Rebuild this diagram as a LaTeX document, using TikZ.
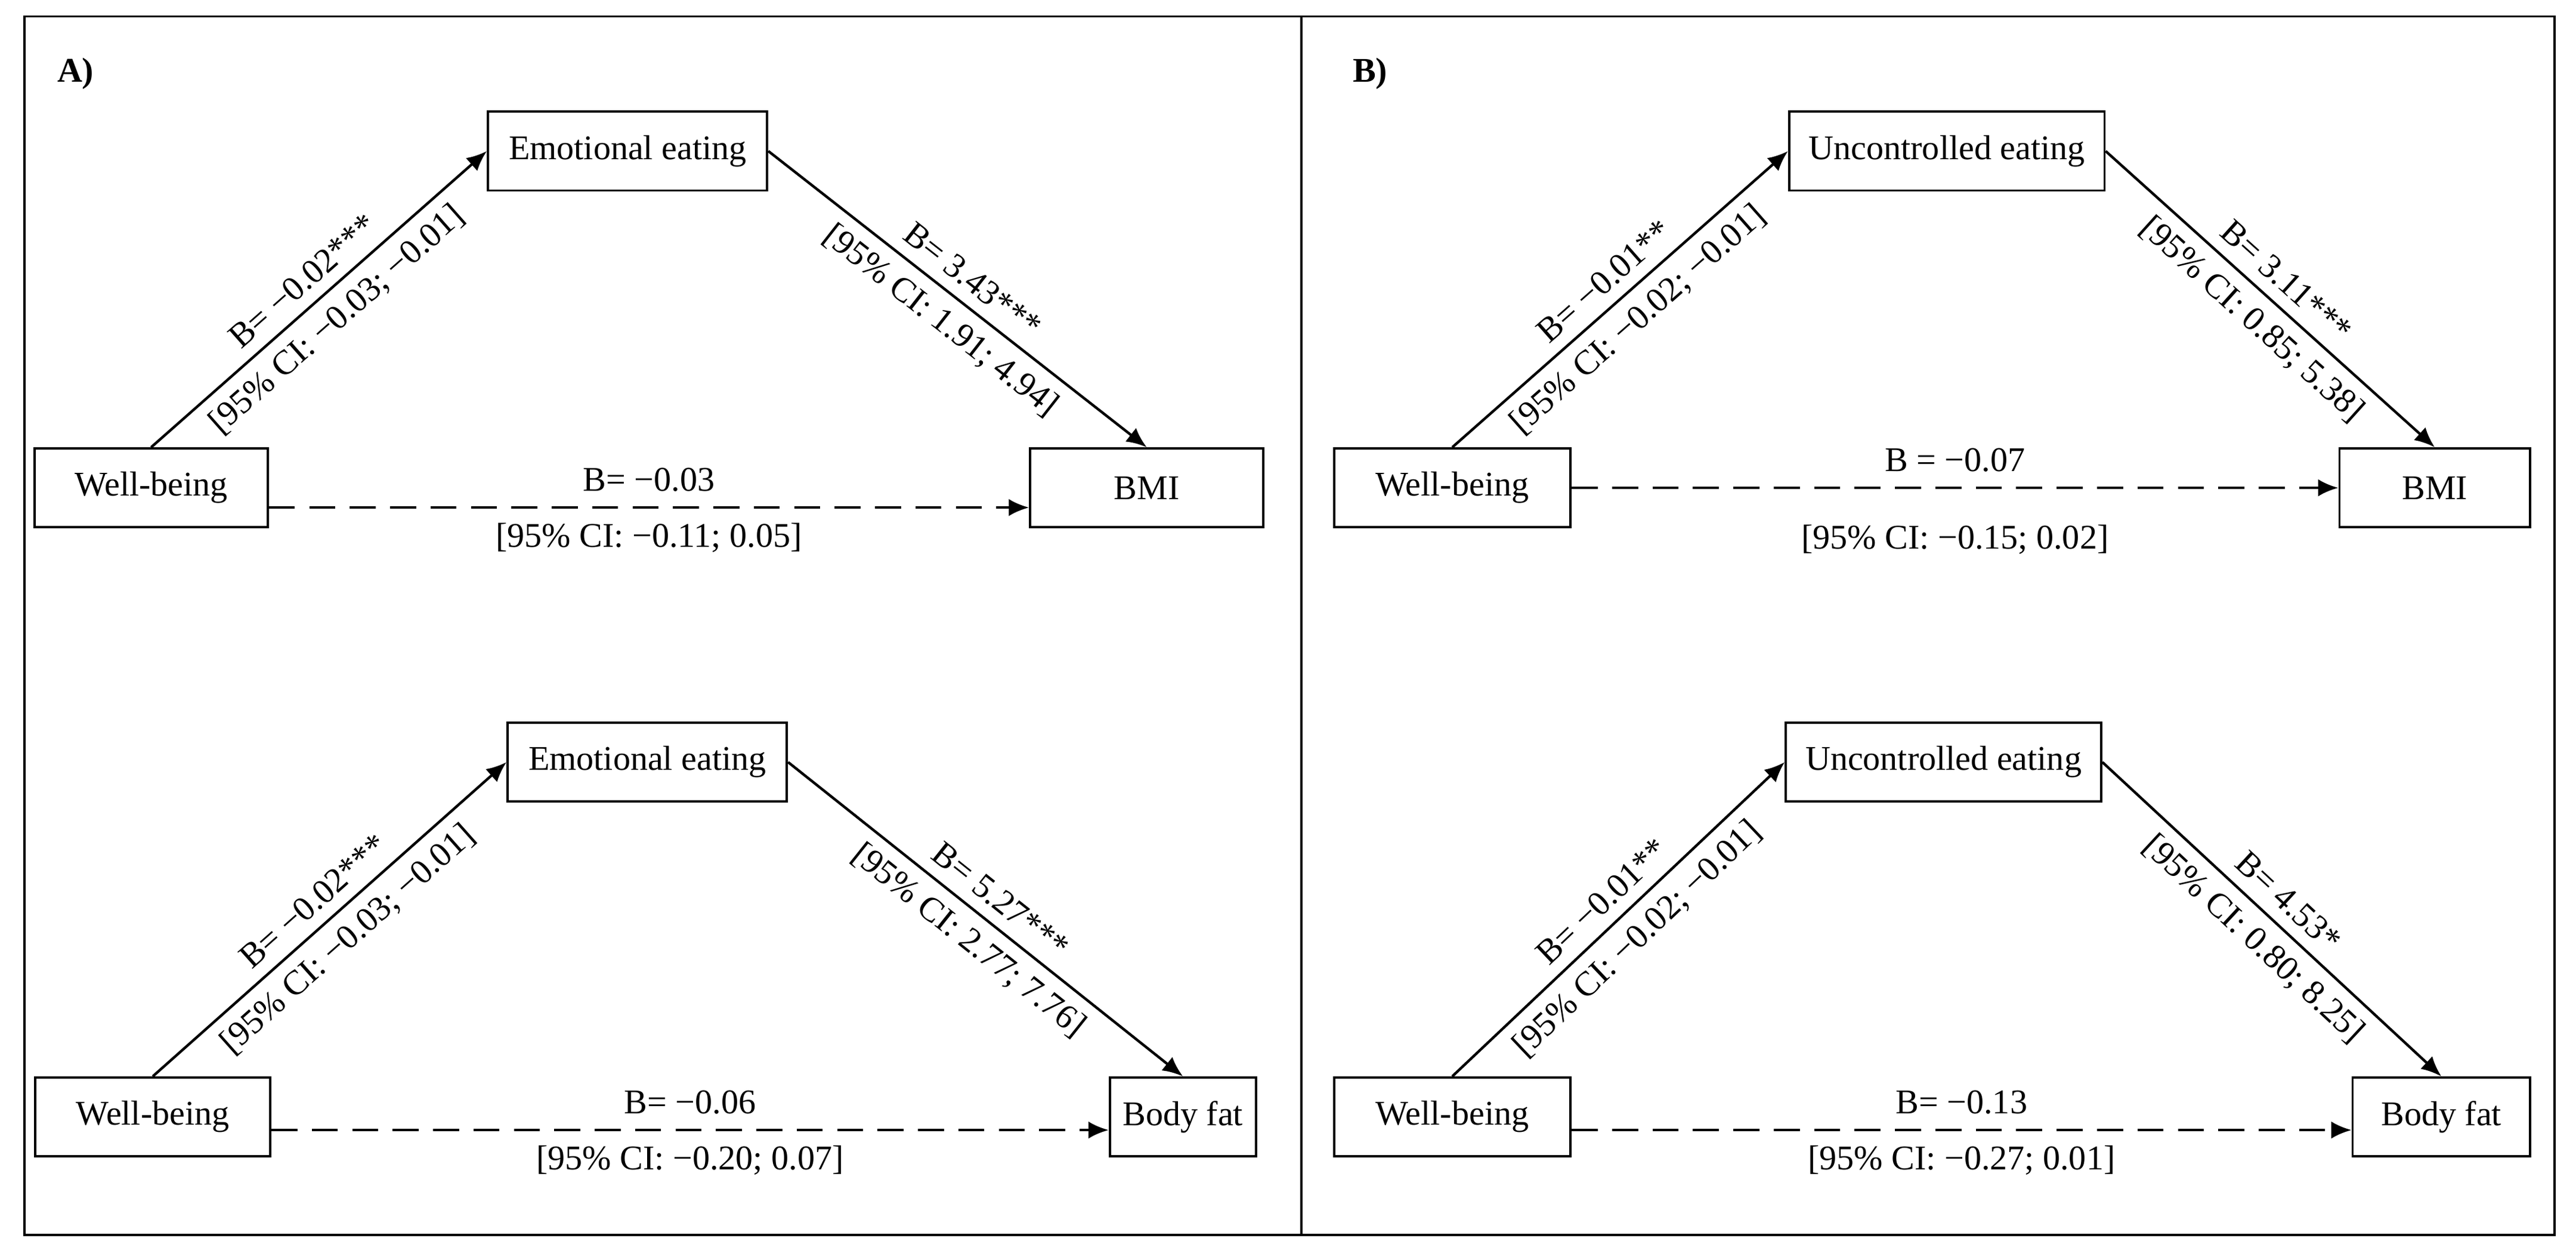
\documentclass[tikz,border=0pt]{standalone}
\usepackage{fontspec}
\setmainfont{Liberation Serif}
\usetikzlibrary{arrows.meta}
\begin{document}
\begin{tikzpicture}[x=0.02cm,y=-0.02cm,font=\fontsize{12}{14}\selectfont,
 box/.style={draw,line width=0.8pt,rectangle,inner sep=0pt,minimum height=0.96cm},
 arr/.style={-{Latex[length=7pt,width=6pt]},line width=0.9pt},
 dsh/.style={-{Latex[length=7pt,width=6pt]},line width=0.9pt,dash pattern=on 9pt off 5pt},
 lab/.style={sloped,inner sep=4pt},
 hl/.style={inner sep=5pt}]
\fill[white] (0,0) rectangle (1568,765);
\draw[line width=0.8pt] (15,10) rectangle (1555,752);
\draw[line width=0.8pt] (792,10) -- (792,752);
\node[font=\bfseries\fontsize{12}{14}\selectfont] at (46,45) {A)};
\node[font=\bfseries\fontsize{12}{14}\selectfont] at (834,45) {B)};
% A top
\node[box,minimum width=3.4cm] (ee1) at (382,92) {Emotional eating};
\node[box,minimum width=2.84cm] (wb1) at (92,297) {Well-being};
\node[box,minimum width=2.84cm] (bmi1) at (698,297) {BMI};
\draw[arr] (wb1.north) -- node[lab,above]{B= −0.02***} node[lab,below]{[95\% CI: −0.03; −0.01]} (ee1.west);
\draw[arr] (ee1.east) -- node[lab,above]{B= 3.43***} node[lab,below]{[95\% CI: 1.91; 4.94]} (bmi1.north);
\draw[dsh] ([yshift=-0.24cm]wb1.east) -- node[hl,above]{B= −0.03} node[hl,below]{[95\% CI: −0.11; 0.05]} ([yshift=-0.24cm]bmi1.west);
% A bottom
\node[box,minimum width=3.4cm] (ee2) at (394,464) {Emotional eating};
\node[box,minimum width=2.86cm] (wb2) at (93,680) {Well-being};
\node[box,minimum width=1.78cm] (bf2) at (720,680) {Body fat};
\draw[arr] (wb2.north) -- node[lab,above]{B= −0.02***} node[lab,below]{[95\% CI: −0.03; −0.01]} (ee2.west);
\draw[arr] (ee2.east) -- node[lab,above]{B= 5.27***} node[lab,below]{[95\% CI: 2.77; 7.76]} (bf2.north);
\draw[dsh] ([yshift=-0.16cm]wb2.east) -- node[hl,above]{B= −0.06} node[hl,below]{[95\% CI: −0.20; 0.07]} ([yshift=-0.16cm]bf2.west);
% B top
\node[box,minimum width=3.84cm] (ue1) at (1185,92) {Uncontrolled eating};
\node[box,minimum width=2.88cm] (wb3) at (884,297) {Well-being};
\node[box,minimum width=2.32cm] (bmi3) at (1482,297) {BMI};
\draw[arr] (wb3.north) -- node[lab,above]{B= −0.01**} node[lab,below]{[95\% CI: −0.02; −0.01]} (ue1.west);
\draw[arr] (ue1.east) -- node[lab,above]{B= 3.11***} node[lab,below]{[95\% CI: 0.85; 5.38]} (bmi3.north);
\draw[dsh] (wb3.east) -- node[hl,above]{B = −0.07} node[below=9pt]{[95\% CI: −0.15; 0.02]} (bmi3.west);
% B bottom
\node[box,minimum width=3.84cm] (ue2) at (1183,464) {Uncontrolled eating};
\node[box,minimum width=2.88cm] (wb4) at (884,680) {Well-being};
\node[box,minimum width=2.16cm] (bf4) at (1486,680) {Body fat};
\draw[arr] (wb4.north) -- node[lab,above]{B= −0.01**} node[lab,below]{[95\% CI: −0.02; −0.01]} (ue2.west);
\draw[arr] (ue2.east) -- node[lab,above]{B= 4.53*} node[lab,below]{[95\% CI: 0.80; 8.25]} (bf4.north);
\draw[dsh] ([yshift=-0.16cm]wb4.east) -- node[hl,above]{B= −0.13} node[hl,below]{[95\% CI: −0.27; 0.01]} ([yshift=-0.16cm]bf4.west);
\end{tikzpicture}
\end{document}
